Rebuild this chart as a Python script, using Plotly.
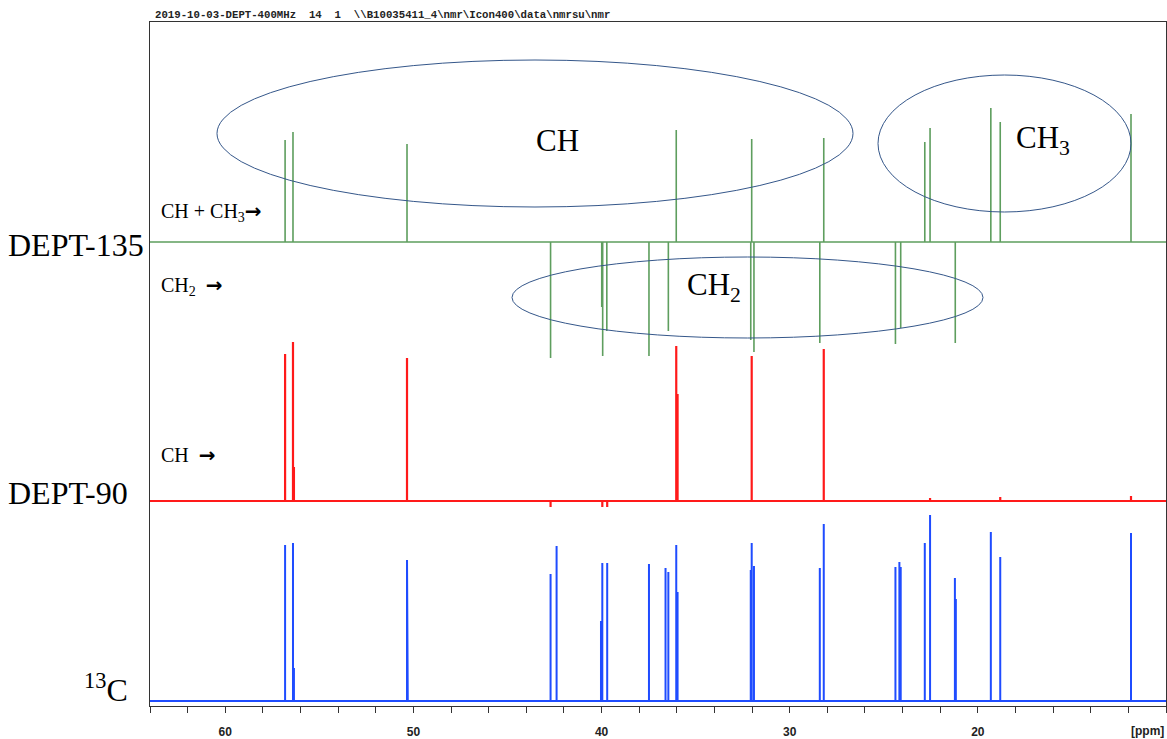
import plotly.graph_objects as go

# ---------------- data ----------------
# 13C spectrum: peak positions (ppm) and relative intensities
c13_ppm = [56.82, 56.78, 56.40, 56.35, 50.34, 50.30, 42.71, 42.39, 40.03, 39.96, 39.70,
           37.48, 36.60, 36.45, 36.03, 35.96, 32.07, 32.02, 31.90, 28.40, 28.19,
           24.38, 24.17, 24.10, 22.82, 22.54, 21.22, 21.17, 19.31, 18.81, 11.86]
c13_int = [156, 16, 158, 33, 141, 23, 127, 155, 80, 138, 138,
           137, 133, 129, 156, 109, 131, 158, 135, 133, 177,
           134, 139, 134, 158, 186, 123, 102, 169, 144, 168]

# DEPT-90 spectrum
dept90_ppm = [56.82, 56.40, 56.35, 50.34, 42.71, 39.96, 39.70, 36.03, 35.96, 32.02, 28.19,
              22.54, 18.81, 11.86]
dept90_int = [147, 159, 34, 143, -6, -6, -6, 155, 107, 145, 152,
              3, 4, 5]

# DEPT-135 spectrum (CH, CH3 up; CH2 down)
dept135_ppm = [56.82, 56.40, 50.34, 42.71, 39.99, 39.94, 39.72, 37.48, 36.45, 36.03,
               32.07, 32.02, 31.90, 28.40, 28.19, 24.38, 24.10, 22.82, 22.54, 21.20,
               19.31, 18.81, 11.86]
dept135_int = [102, 110, 98, -116, -65, -114, -89, -114, -89, 112,
               -98, 103, -110, -101, 104, -102, -86, 100, 114, -101,
               134, 120, 128]

x_ticks = [60, 50, 40, 30, 20]
x_tick_labels = ["60", "50", "40", "30", "20"]

header_text = "2019-10-03-DEPT-400MHz  14  1  \\\\B10035411_4\\nmr\\Icon400\\data\\nmrsu\\nmr"

# ---------------- helpers ----------------
W, H = 1167, 739
L, R, T, B = 150, 1, 22, 33
PW, PH = W - L - R, H - T - B


def px(x):
    return (x - L) / PW


def py(y):
    return (H - B - y) / PH


def sticks(ppm, inten, x_start=64.5, x_end=9.5):
    pairs = sorted(zip(ppm, inten), key=lambda p: -p[0])
    xs, ys = [x_start], [0]
    for p, h in pairs:
        xs += [p, p, p]
        ys += [0, h, 0]
    xs.append(x_end)
    ys.append(0)
    return xs, ys


fig = go.Figure()

bx, by = sticks(c13_ppm, c13_int)
fig.add_trace(go.Scatter(x=bx, y=by, mode="lines", yaxis="y",
                         line=dict(color="#1f4cff", width=2), hoverinfo="skip", showlegend=False))
rx, ry = sticks(dept90_ppm, dept90_int)
fig.add_trace(go.Scatter(x=rx, y=ry, mode="lines", yaxis="y2",
                         line=dict(color="#ff1a1a", width=2.2), hoverinfo="skip", showlegend=False))
gx, gy = sticks(dept135_ppm, dept135_int)
fig.add_trace(go.Scatter(x=gx, y=gy, mode="lines", yaxis="y3",
                         line=dict(color="#5e9e5e", width=1.6), hoverinfo="skip", showlegend=False))

axis_col = "#333333"
fig.update_layout(
    width=W, height=H,
    margin=dict(l=L, r=R, t=T, b=B, pad=0),
    paper_bgcolor="white", plot_bgcolor="white",
    xaxis=dict(range=[64.0, 10.0], showgrid=False, zeroline=False,
               showline=True, mirror=True, linecolor=axis_col, linewidth=1,
               tickmode="array", tickvals=x_ticks, ticktext=x_tick_labels,
               ticks="outside", ticklen=6, tickcolor=axis_col, tickwidth=1,
               ticklabelstandoff=9,
               minor=dict(dtick=2, tick0=0, ticks="outside", ticklen=6,
                          tickcolor=axis_col, tickwidth=1),
               tickfont=dict(family="Liberation Sans Narrow, Liberation Sans, Arial",
                             size=12, color="#222222", weight="bold")),
    yaxis=dict(range=[-5, 679], showgrid=False, zeroline=False, showticklabels=False,
               ticks="", showline=True, mirror=True, linecolor=axis_col, linewidth=1),
    yaxis2=dict(range=[-205, 479], overlaying="y", visible=False),
    yaxis3=dict(range=[-464, 220], overlaying="y", visible=False),
)

ell_col = "#35578a"
ellipses = [(217, 853, 60, 207), (878, 1131, 75, 212), (512, 983, 257, 338)]
for x0, x1, y0, y1 in ellipses:
    fig.add_shape(type="circle", xref="paper", yref="paper",
                  x0=px(x0), x1=px(x1), y0=py(y1), y1=py(y0),
                  line=dict(color=ell_col, width=1))

serif = "Liberation Serif, Times New Roman, serif"
arrow = "<span style='font-family:DejaVu Sans'><b>→</b></span>"
anns = [
    ("CH", 557, 140, 31, "center"),
    ("CH<sub>3</sub>", 1043, 140, 31, "center"),
    ("CH<sub>2</sub>", 714, 287, 31, "center"),
    ("CH + CH<sub>3</sub>" + arrow, 159, 212, 20, "left"),
    ("CH<sub>2</sub>  " + arrow, 159, 286, 20, "left"),
    ("CH  " + arrow, 159, 455, 20, "left"),
    ("DEPT-135", 6, 245, 32, "left"),
    ("DEPT-90", 6, 493, 32, "left"),
    ("<sup>13</sup>C", 82, 688, 32, "left"),
]
for text, x, y, size, anchor in anns:
    fig.add_annotation(text=text, xref="paper", yref="paper", x=px(x), y=py(y),
                       xanchor=anchor, yanchor="middle", showarrow=False,
                       font=dict(family=serif, size=size, color="black"))

fig.add_annotation(text=header_text, xref="paper", yref="paper", x=px(153), y=py(15),
                   xanchor="left", yanchor="middle", showarrow=False,
                   font=dict(family="Liberation Mono, Courier New, monospace", size=10.7,
                             color="#222222", weight="bold"))
fig.add_annotation(text="[ppm]", xref="paper", yref="paper", x=px(1147), y=py(731),
                   xanchor="center", yanchor="middle", showarrow=False,
                   font=dict(family="Liberation Sans Narrow, Liberation Sans, Arial",
                             size=12, color="#222222", weight="bold"))

fig.write_html("out.html", config={"displayModeBar": False},
               post_script="document.body.style.margin='0';document.body.style.padding='0';")
